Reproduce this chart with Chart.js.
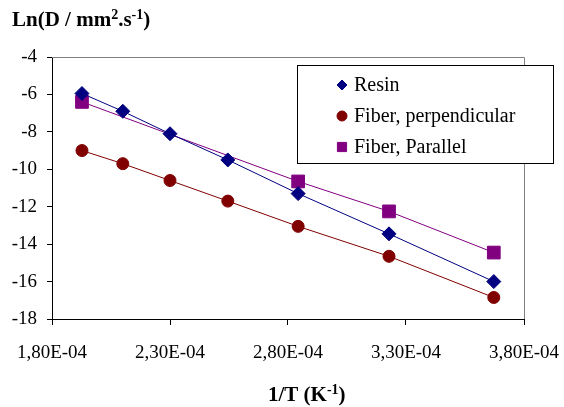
<!DOCTYPE html>
<html>
<head>
<meta charset="utf-8">
<script src="https://cdn.jsdelivr.net/npm/chart.js@4/dist/chart.umd.min.js"></script>
<style>
  html, body { margin: 0; padding: 0; background: #fff; }
  #wrap { width: 564px; height: 407px; }
</style>
</head>
<body>
<div id="wrap"><canvas id="canvas" width="564" height="407"></canvas></div>
<script>
// data
var seriesNames = ["Resin", "Fiber, perpendicular", "Fiber, Parallel"];
var resinX = [1.927e-4, 2.10e-4, 2.30e-4, 2.545e-4, 2.843e-4, 3.228e-4, 3.672e-4];
var resinY = [-5.95, -6.9, -8.1, -9.5, -11.3, -13.45, -16.0];
var perpX = [1.927e-4, 2.10e-4, 2.30e-4, 2.545e-4, 2.843e-4, 3.228e-4, 3.672e-4];
var perpY = [-9.0, -9.7, -10.6, -11.7, -13.05, -14.65, -16.85];
var paraX = [1.927e-4, 2.843e-4, 3.228e-4, 3.672e-4];
var paraY = [-6.4, -10.65, -12.25, -14.45];
var xTicks = [1.8e-4, 2.3e-4, 2.8e-4, 3.3e-4, 3.8e-4];
var yTicks = [-18, -16, -14, -12, -10, -8, -6, -4];
// axis titles, pieces with a flag for superscript
var yTitle = [["Ln(D / mm", 0], ["2", 1], [".s", 0], ["-1", 1], [")", 0]];
var xTitle = [["1/T (K", 0], ["-1", 1], [")", 0]];

var colors = ["#000080", "#800000", "#800080"];
var styles = ["rectRot", "circle", "rect"];
var radii = [7, 6, 9];
var legRadii = [5, 5, 6.5];
var serif = "Liberation Serif";

function pts(xs, ys) {
  var out = [];
  for (var i = 0; i < xs.length; i++) out.push({x: xs[i], y: ys[i]});
  return out;
}

function makeSet(k, data) {
  return {
    label: seriesNames[k],
    data: data,
    borderColor: colors[k],
    backgroundColor: colors[k],
    borderWidth: 1,
    pointStyle: styles[k],
    pointRadius: radii[k],
    pointHoverRadius: radii[k],
    pointBorderWidth: 1,
    showLine: true,
    tension: 0
  };
}

function fmtSci(v) {
  // 1,80E-04 style
  var s = Number(v).toExponential(2).split("e");
  var e = parseInt(s[1], 10);
  var es = (e < 0 ? "-" : "+") + (Math.abs(e) < 10 ? "0" : "") + Math.abs(e);
  return s[0].replace(".", ",") + "E" + es;
}

function drawRich(ctx, parts, x, y) {
  // draws text left to right, superscripts smaller and raised
  for (var i = 0; i < parts.length; i++) {
    if (parts[i][1]) {
      ctx.font = "bold 14px '" + serif + "'";
      ctx.fillText(parts[i][0], x, y - 6);
    } else {
      ctx.font = "bold 21px '" + serif + "'";
      ctx.fillText(parts[i][0], x, y);
    }
    x += ctx.measureText(parts[i][0]).width;
  }
}

// titles, gray frame and legend box
var extras = {
  id: "extras",
  afterDraw: function(chart) {
    var ctx = chart.ctx, a = chart.chartArea;
    ctx.save();
    ctx.strokeStyle = "#808080";
    ctx.lineWidth = 1;
    ctx.beginPath();
    ctx.moveTo(a.left, a.top + 0.5);
    ctx.lineTo(a.right + 0.5, a.top + 0.5);
    ctx.lineTo(a.right + 0.5, a.bottom);
    ctx.stroke();

    ctx.fillStyle = "#000";
    ctx.textBaseline = "middle";
    ctx.textAlign = "left";
    drawRich(ctx, yTitle, 12, 21);
    drawRich(ctx, xTitle, 268, 396);

    // legend
    var lx = 297, ly = 65, lw = 256, lh = 98;
    ctx.fillStyle = "#fff";
    ctx.fillRect(lx, ly, lw, lh);
    ctx.strokeStyle = "#000";
    ctx.strokeRect(lx + 0.5, ly + 0.5, lw, lh);
    ctx.font = "20px '" + serif + "'";
    var rows = [85, 116, 147];
    for (var k = 0; k < 3; k++) {
      ctx.fillStyle = colors[k];
      ctx.strokeStyle = colors[k];
      Chart.helpers.drawPoint(ctx, {pointStyle: styles[k], radius: legRadii[k], borderWidth: 1}, 342, rows[k]);
      ctx.fillStyle = "#000";
      ctx.fillText(seriesNames[k], 354, rows[k] + 1);
    }
    ctx.restore();
  }
};

var chart = new Chart(document.getElementById("canvas"), {
  type: "scatter",
  data: {
    datasets: [makeSet(0, pts(resinX, resinY)), makeSet(1, pts(perpX, perpY)), makeSet(2, pts(paraX, paraY))]
  },
  options: {
    responsive: false,
    animation: false,
    layout: { padding: { left: 0, top: 57, right: 40, bottom: 0 } },
    plugins: { legend: { display: false }, tooltip: { enabled: false } },
    scales: {
      x: {
        type: "linear",
        min: xTicks[0],
        max: xTicks[xTicks.length - 1],
        afterBuildTicks: function(s) { s.ticks = xTicks.map(function(v) { return {value: v}; }); },
        afterFit: function(s) { s.height = 88; s.paddingLeft = 0; s.paddingRight = 0; },
        border: { color: "#000", width: 1 },
        grid: { drawOnChartArea: false, drawTicks: true, tickLength: 6, color: "#000" },
        ticks: { color: "#000", font: { family: serif, size: 19 }, padding: 17, maxRotation: 0,
                 callback: function(v) { return fmtSci(v); } }
      },
      y: {
        min: yTicks[0],
        max: yTicks[yTicks.length - 1],
        afterBuildTicks: function(s) { s.ticks = yTicks.map(function(v) { return {value: v}; }); },
        afterFit: function(s) { s.width = 52; },
        border: { color: "#000", width: 1 },
        grid: { drawOnChartArea: false, drawTicks: true, tickLength: 5, color: "#000" },
        ticks: { color: "#000", font: { family: serif, size: 19 }, padding: 10 }
      }
    }
  },
  plugins: [extras]
});
</script>
</body>
</html>
